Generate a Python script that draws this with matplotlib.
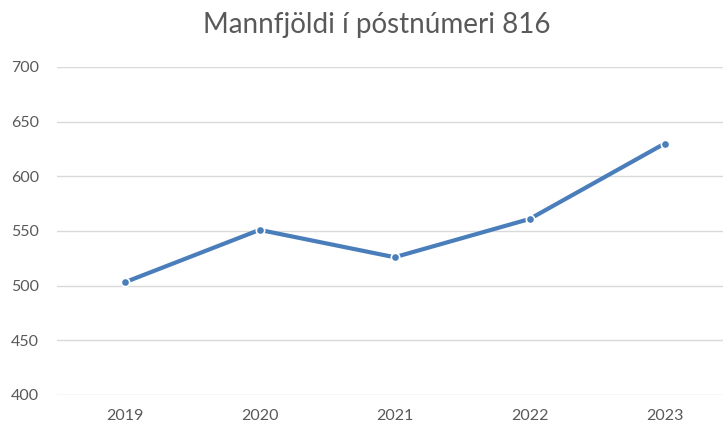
import matplotlib.pyplot as plt

# Data
years = ["2019", "2020", "2021", "2022", "2023"]
population = [503, 551, 526, 561, 630]
yticks = [400, 450, 500, 550, 600, 650, 700]

plt.rcParams['font.family'] = ['Lato', 'DejaVu Sans']

fig = plt.figure(figsize=(7.23, 4.25), dpi=100)
ax = fig.add_axes([0.0788, 0.0706, 0.934, 0.7718])

x = list(range(len(years)))
ax.plot(x, population, color='#4A7EBB', linewidth=3, marker='o', markersize=6,
        markerfacecolor='#4A7EBB', markeredgecolor='white', markeredgewidth=1.2,
        solid_capstyle='round', zorder=3)

ax.set_xlim(-0.5, len(years) - 0.5)
ax.set_ylim(400, 700)
ax.set_yticks(yticks)
ax.set_xticks(x)
ax.set_xticklabels(years)

ax.grid(axis='y', color='#D9D9D9', linewidth=1)
ax.set_axisbelow(True)
for s in ax.spines.values():
    s.set_visible(False)
ax.tick_params(length=0, colors='#595959', labelsize=11.5)
ax.tick_params(axis='y', pad=13)
ax.tick_params(axis='x', pad=10)

fig.text(0.521, 0.940, "Mannfjöldi í póstnúmeri 816", ha='center', va='center',
         fontsize=20, color='#595959')

fig.savefig("out.png", dpi=100)
